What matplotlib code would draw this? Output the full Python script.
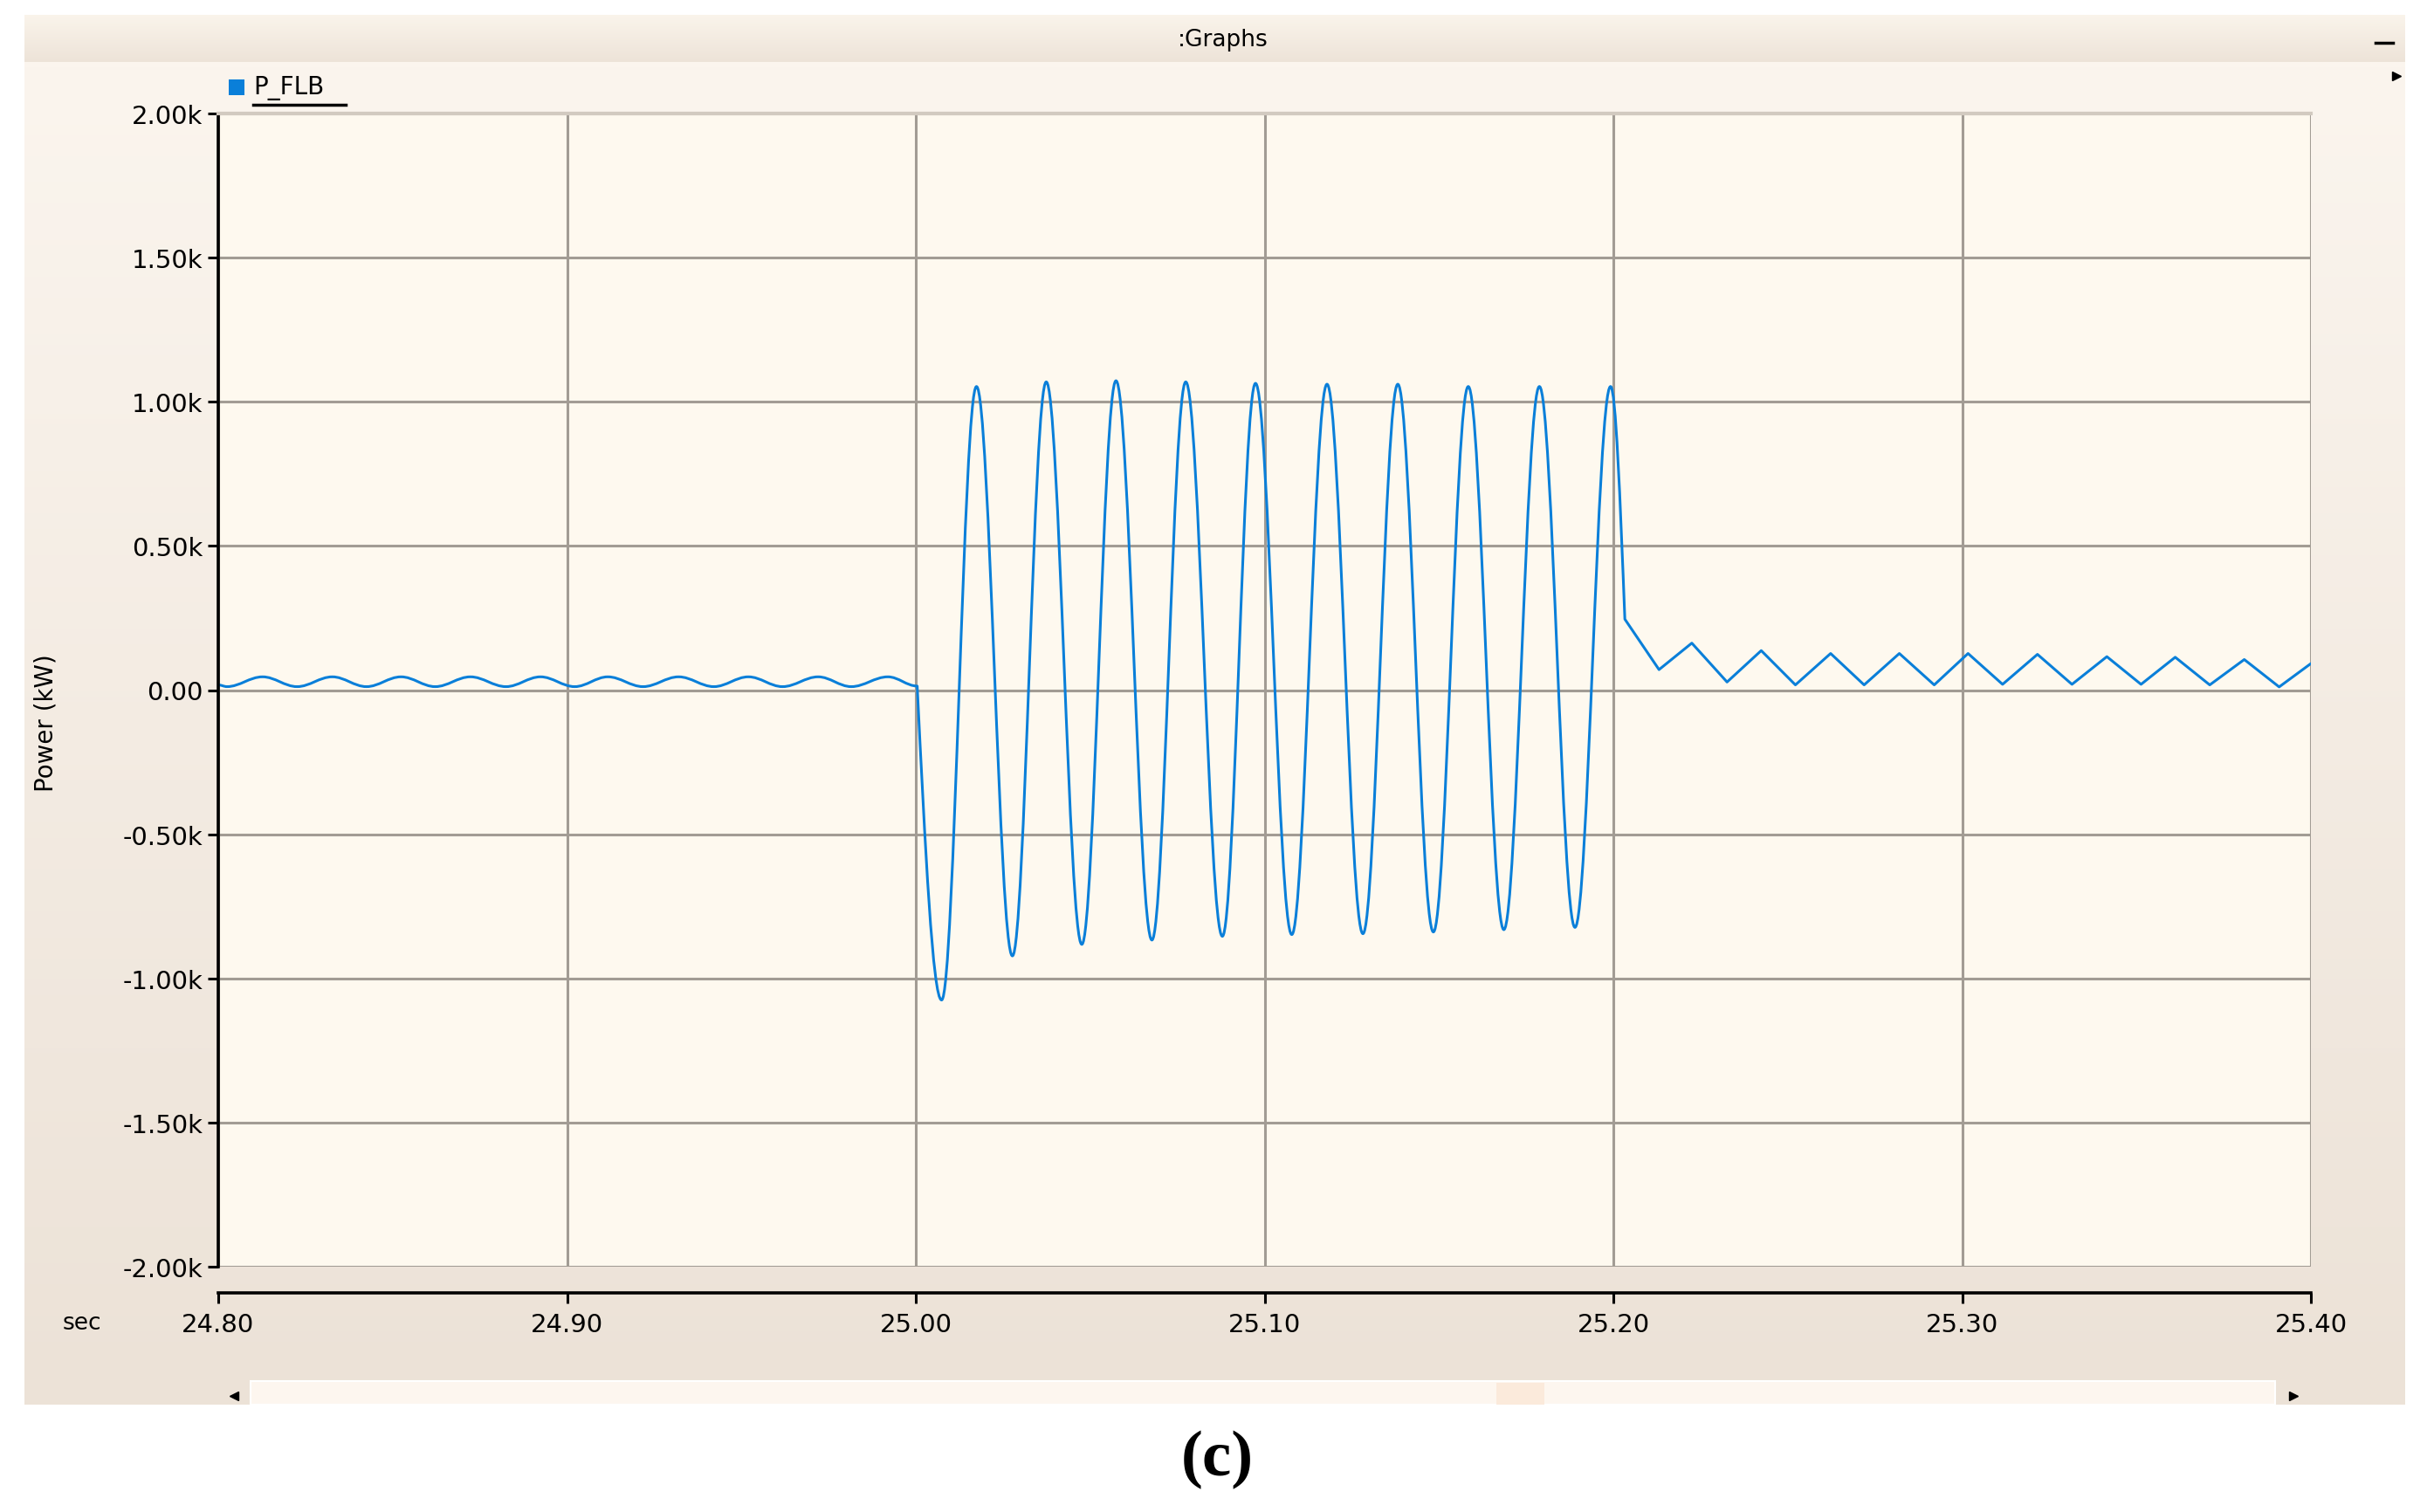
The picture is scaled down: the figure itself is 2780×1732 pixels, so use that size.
import numpy as np
import matplotlib
matplotlib.use("Agg")
import matplotlib.pyplot as plt
from matplotlib.path import Path
from matplotlib.patches import PathPatch, Rectangle
from matplotlib.colors import to_rgb

# ---- data (time in s, power in kW*1000) ----
series_name = "P_FLB"

# pre-fault ripple: alternating troughs / tops
pre_t = [24.8000, 24.8025, 24.8127, 24.8226, 24.8327, 24.8425, 24.8524, 24.8622,
         24.8723, 24.8825, 24.8924, 24.9022, 24.9117, 24.9218, 24.9320, 24.9421,
         24.9520, 24.9618, 24.9720, 24.9815, 24.9920, 25.0004]
pre_v = [0.018, 0.012, 0.046, 0.012, 0.046, 0.012, 0.046, 0.012,
         0.046, 0.012, 0.046, 0.012, 0.046, 0.012, 0.046, 0.012,
         0.046, 0.012, 0.046, 0.012, 0.046, 0.014]

# fault period: troughs and peaks of the oscillation
fault_t = [25.0074, 25.0174, 25.0277, 25.0374, 25.0476, 25.0574, 25.0677, 25.0774,
           25.0879, 25.0974, 25.1078, 25.1179, 25.1282, 25.1382, 25.1484, 25.1584,
           25.1686, 25.1788, 25.1890, 25.1992]
fault_v = [-1.075, 1.053, -0.922, 1.069, -0.882, 1.073, -0.867, 1.069,
           -0.854, 1.064, -0.848, 1.061, -0.845, 1.061, -0.839, 1.053,
           -0.831, 1.053, -0.823, 1.053]

# after clearing: cut-off point then zig-zag ripple
post_t = [25.2033, 25.2131, 25.2225, 25.2326, 25.2424, 25.2522, 25.2623, 25.2719,
          25.2820, 25.2920, 25.3017, 25.3116, 25.3216, 25.3315, 25.3415, 25.3513,
          25.3611, 25.3710, 25.3809, 25.3909, 25.4000]
post_v = [0.246, 0.071, 0.163, 0.028, 0.137, 0.018, 0.127, 0.018,
          0.127, 0.018, 0.127, 0.020, 0.124, 0.020, 0.116, 0.020,
          0.114, 0.018, 0.106, 0.011, 0.092]

x_ticks = [24.80, 24.90, 25.00, 25.10, 25.20, 25.30, 25.40]
y_ticks = [-2.0, -1.5, -1.0, -0.5, 0.0, 0.5, 1.0, 1.5, 2.0]
y_labels = ["-2.00k", "-1.50k", "-1.00k", "-0.50k", "0.00",
            "0.50k", "1.00k", "1.50k", "2.00k"]

W, H = 2780, 1733
LINE = "#0A7FD9"


def vgrad(c_top, c_bot, n=256):
    a = np.array(to_rgb(c_top))
    b = np.array(to_rgb(c_bot))
    f = np.linspace(0, 1, n)[:, None]
    return (a + (b - a) * f)[:, None, :]


def half_wave(verts, codes, t1, v1, k=0.364):
    # smooth extremum-to-extremum segment (flat tangents at both ends)
    t0, v0 = verts[-1]
    dt = t1 - t0
    verts += [(t0 + k * dt, v0), (t1 - k * dt, v1), (t1, v1)]
    codes += [Path.CURVE4] * 3


fig = plt.figure(figsize=(W / 100, H / 100), dpi=100)
fig.patch.set_facecolor("white")

# window chrome
bg = fig.add_axes([0, 0, 1, 1])
bg.axis("off")
bg.imshow(vgrad("#FAF4EB", "#EDE3D8"), extent=(28, 2755, 72, 18), aspect="auto")
bg.imshow(vgrad("#FBF5EE", "#ECE2D7"), extent=(28, 2755, 1610, 72), aspect="auto")
bg.add_patch(Rectangle((287, 1583), 2606 - 287, 27, facecolor="#FDF6EF",
                       edgecolor="#FFFFFF", lw=1.5))
bg.add_patch(Rectangle((1714, 1585), 55, 25, facecolor="#FBEADB", lw=0))
bg.plot([268], [1600], marker="<", color="black", ms=7)
bg.plot([2627], [1600], marker=">", color="black", ms=7)
bg.plot([2745], [88], marker=">", color="black", ms=7)
bg.plot([2721, 2741], [50, 50], color="black", lw=2.5)
bg.text(1401, 46, ":Graphs", ha="center", va="center", fontsize=19)
bg.add_patch(Rectangle((262, 92), 18, 18, facecolor=LINE, lw=0))
bg.text(290, 101, series_name, ha="left", va="center", fontsize=20)
bg.plot([290, 396], [121, 121], color="black", lw=2.5)
bg.text(94, 1516, "sec", ha="center", va="center", fontsize=19)
bg.text(53, 828, "Power (kW)", ha="center", va="center", rotation=90, fontsize=20)
bg.text(1394, 1672, "(c)", ha="center", va="center", fontsize=54,
        fontweight="bold", family="Liberation Serif")
bg.set_xlim(0, W)
bg.set_ylim(H, 0)

# plot area
ax = fig.add_axes([250 / W, (H - 1452) / H, (2647 - 250) / W, (1452 - 131) / H])
ax.set_facecolor("#FEF9EF")
ax.set_xlim(24.8, 25.4)
ax.set_ylim(-2.0, 2.0)
ax.set_xticks(x_ticks)
ax.set_xticklabels([f"{t:.2f}" for t in x_ticks])
ax.set_yticks(y_ticks)
ax.set_yticklabels(y_labels)
ax.set_axisbelow(True)
ax.grid(True, color="#A29C94", lw=2.2)
ax.yaxis.get_gridlines()[-1].set_color("#D2CAC0")
ax.yaxis.get_gridlines()[-1].set_linewidth(3)

for s in ("right",):
    ax.spines[s].set_visible(False)
ax.spines["top"].set_color("#D2CAC0")
ax.spines["top"].set_linewidth(3)
ax.spines["left"].set_color("black")
ax.spines["left"].set_linewidth(2.6)
ax.spines["bottom"].set_color("black")
ax.spines["bottom"].set_linewidth(2.6)
ax.spines["bottom"].set_position(("outward", 21.6))
ax.tick_params(axis="both", direction="out", length=8.5, width=2.2,
               labelsize=21, colors="black")
ax.tick_params(axis="y", pad=4)
ax.tick_params(axis="x", pad=7)

# waveform path
verts = [(pre_t[0], pre_v[0])]
codes = [Path.MOVETO]
for t, v in zip(pre_t[1:], pre_v[1:]):
    half_wave(verts, codes, t, v)

# fault onset: steep start, flat at first trough
t0, v0 = verts[-1]
t1, v1 = fault_t[0], fault_v[0]
verts += [(t0 + 0.326 * (t1 - t0), v0 + 0.512 * (v1 - v0)),
          (t0 + 0.638 * (t1 - t0), v1), (t1, v1)]
codes += [Path.CURVE4] * 3
for t, v in zip(fault_t[1:], fault_v[1:]):
    half_wave(verts, codes, t, v)

# breaker opening: flat at last peak, steep into cut-off point
t0, v0 = verts[-1]
t1, v1 = post_t[0], post_v[0]
verts += [(t0 + 0.362 * (t1 - t0), v0),
          (t0 + 0.674 * (t1 - t0), v0 + 0.488 * (v1 - v0)), (t1, v1)]
codes += [Path.CURVE4] * 3
for t, v in zip(post_t[1:], post_v[1:]):
    verts.append((t, v))
    codes.append(Path.LINETO)

ax.add_patch(PathPatch(Path(verts, codes), fill=False, edgecolor=LINE,
                       lw=2.2, joinstyle="round", capstyle="round"))

fig.savefig("out.png", dpi=100)
